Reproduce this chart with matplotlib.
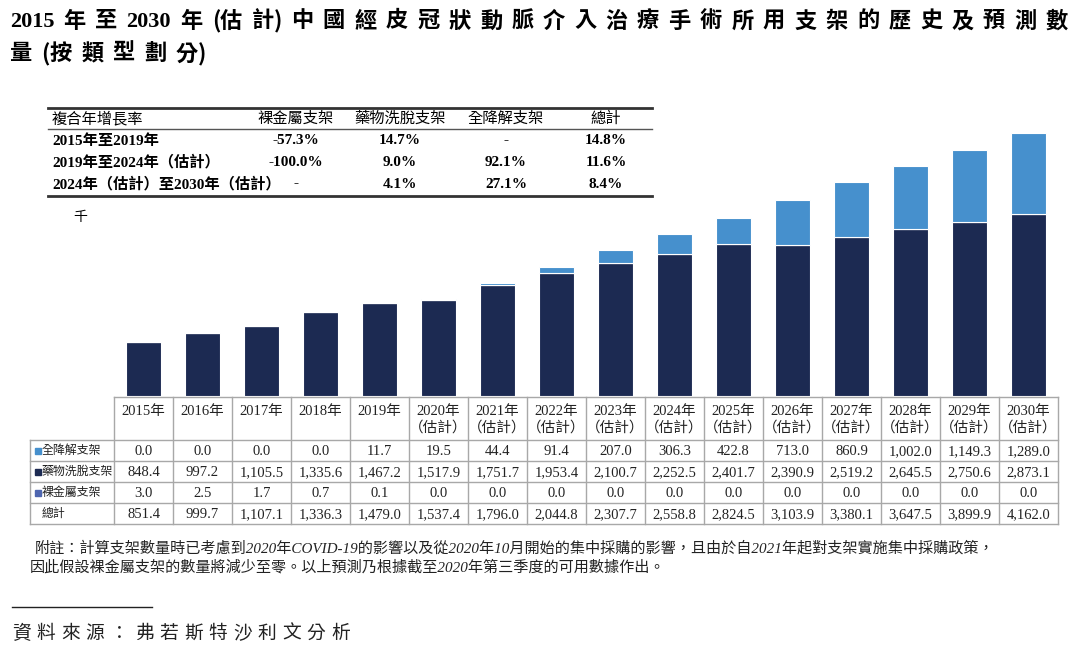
import matplotlib
matplotlib.use("Agg")
import matplotlib.pyplot as plt

# Data (千)
years = ["2015年", "2016年", "2017年", "2018年", "2019年",
         "2020年\n（估計）", "2021年\n（估計）", "2022年\n（估計）", "2023年\n（估計）",
         "2024年\n（估計）", "2025年\n（估計）", "2026年\n（估計）", "2027年\n（估計）",
         "2028年\n（估計）", "2029年\n（估計）", "2030年\n（估計）"]
brs = [0.0, 0.0, 0.0, 0.0, 11.7, 19.5, 44.4, 91.4, 207.0, 306.3, 422.8, 713.0,
       860.9, 1002.0, 1149.3, 1289.0]
des = [848.4, 997.2, 1105.5, 1335.6, 1467.2, 1517.9, 1751.7, 1953.4, 2100.7,
       2252.5, 2401.7, 2390.9, 2519.2, 2645.5, 2750.6, 2873.1]
bms = [3.0, 2.5, 1.7, 0.7, 0.1, 0.0, 0.0, 0.0, 0.0, 0.0, 0.0, 0.0, 0.0, 0.0, 0.0, 0.0]
total = [851.4, 999.7, 1107.1, 1336.3, 1479.0, 1537.4, 1796.0, 2044.8, 2307.7,
         2558.8, 2824.5, 3103.9, 3380.1, 3647.5, 3899.9, 4162.0]

series_names = ["全降解支架", "藥物洗脫支架", "裸金屬支架"]

# CAGR table
cagr_header = ["複合年增長率", "裸金屬支架", "藥物洗脫支架", "全降解支架", "總計"]
cagr_periods = ["2015年至2019年", "2019年至2024年（估計）", "2024年（估計）至2030年（估計）"]
cagr_bms = ["-57.3%", "-100.0%", "-"]
cagr_des = ["14.7%", "9.0%", "4.1%"]
cagr_brs = ["-", "92.1%", "27.1%"]
cagr_total = ["14.8%", "11.6%", "8.4%"]

title1 = "2015年至2030年(估計)中國經皮冠狀動脈介入治療手術所用支架的歷史及預測數"
title2 = "量(按類型劃分)"
note1 = ("附註：計算支架數量時已考慮到2020年COVID-19的影響以及從2020年10月開始的集中採購的影響，"
         "且由於自2021年起對支架實施集中採購政策，")
note2 = "因此假設裸金屬支架的數量將減少至零。以上預測乃根據截至2020年第三季度的可用數據作出。"
source = "資料來源：弗若斯特沙利文分析"

NAVY = "#1c2a52"
LIGHT = "#4690cd"
MID = "#4e66b0"
GRID = "#a8a8a8"
FAM = ["Liberation Serif", "Noto Sans CJK TC"]
CJK = ["Noto Sans CJK TC", "DejaVu Sans"]

W, H = 1080, 657
fig = plt.figure(figsize=(W / 100, H / 100), dpi=100)
ov = fig.add_axes([0, 0, 1, 1])
ov.set_xlim(0, W)
ov.set_ylim(H, 0)
ov.axis("off")
renderer = fig.canvas.get_renderer()


def tokens(s):
    out, buf = [], ""
    for ch in s:
        if ch.isascii() and ch not in "()":
            buf += ch
        else:
            if buf:
                out.append(buf)
                buf = ""
            out.append(ch)
    if buf:
        out.append(buf)
    return out


def spaced(x, y, s, size, width=None, gap=0.0, **kw):
    toks = tokens(s)
    arts = [ov.text(0, y, t, fontsize=size, va="center", ha="left",
                    family=CJK if t in "()" else FAM, **kw)
            for t in toks]
    ws = [a.get_window_extent(renderer).width for a in arts]
    # no extra gap right after "(" or right before ")"
    flags = [not (toks[i] == "(" or toks[i + 1] == ")") for i in range(len(toks) - 1)]
    if width is not None and sum(flags):
        gap = (width - sum(ws)) / sum(flags)
    for i, (a, w) in enumerate(zip(arts, ws)):
        a.set_x(x)
        x += w + (gap if i < len(flags) and flags[i] else 0)
    return gap


# title
g = spaced(10, 22, title1, 16, width=1058, weight="bold")
spaced(10, 55, title2, 16, gap=g, weight="bold")

# CAGR table
ov.plot([48, 652], [108, 108], color="#333333", lw=2)
ov.plot([48, 652], [129, 129], color="#555555", lw=1)
ov.plot([48, 652], [196, 196], color="#333333", lw=2)
col_x = [296, 400, 506, 606]
ov.text(52, 119, cagr_header[0], fontsize=11, va="center", ha="left", family=FAM)
for cx, h in zip(col_x, cagr_header[1:]):
    ov.text(cx, 119, h, fontsize=11, va="center", ha="center", family=FAM)
for i, per in enumerate(cagr_periods):
    y = 141 + i * 21.5
    ov.text(52, y, per, fontsize=11, va="center", ha="left", family=FAM, weight="bold")
    for cx, col in zip(col_x, [cagr_bms, cagr_des, cagr_brs, cagr_total]):
        ov.text(cx, y, col[i], fontsize=11, va="center", ha="center",
                family=FAM, weight="bold")

ov.text(80, 218, "千", fontsize=10, va="center", ha="center", family=FAM)

# bars
x0, x1, base, top_px = 114, 1058, 396, 133
ymax = 4400
px_per = (base - top_px) / total[-1]
ax = fig.add_axes([x0 / W, (H - base) / H, (x1 - x0) / W, ymax * px_per / H])
ax.patch.set_alpha(0)
pos = list(range(len(years)))
bw = 0.58
ax.bar(pos, des, bw, color=NAVY, edgecolor="white", linewidth=0.8)
ax.bar(pos, bms, bw, bottom=des, color=MID, edgecolor="white", linewidth=0.8)
bottoms = [a + b for a, b in zip(des, bms)]
ax.bar(pos, brs, bw, bottom=bottoms, color=LIGHT, edgecolor="white", linewidth=0.8)
ax.set_xlim(-0.5, len(years) - 0.5)
ax.set_ylim(0, ymax)
ax.axis("off")

# data table under bars
cw = (x1 - x0) / len(years)
rows_y = [397, 440, 461, 482, 503, 524]
ov.plot([x0, x1], [rows_y[0], rows_y[0]], color=GRID, lw=1)
for ry in rows_y[1:]:
    ov.plot([30, x1], [ry, ry], color=GRID, lw=1)
ov.plot([30, 30], [rows_y[1], rows_y[-1]], color=GRID, lw=1)
for k in range(len(years) + 1):
    xx = x0 + k * cw
    ov.plot([xx, xx], [rows_y[0], rows_y[-1]], color=GRID, lw=1)

for k, lab in enumerate(years):
    cx = x0 + (k + 0.5) * cw
    for j, part in enumerate(lab.split("\n")):
        ov.text(cx, 411 + j * 17, part, fontsize=10.5, va="center", ha="center",
                family=FAM, color="#222222")

row_vals = [brs, des, bms, total]
row_cols = [LIGHT, NAVY, MID, None]
row_labels = series_names + ["總計"]
for r, (vals, colr, lab) in enumerate(zip(row_vals, row_cols, row_labels)):
    cy = (rows_y[r + 1] + rows_y[r + 2]) / 2
    if colr:
        ov.plot(37.5, cy, marker="s", ms=5, color=colr, mec=colr)
    ov.text(42, cy, lab, fontsize=8.6, va="center", ha="left", family=FAM, color="#222222")
    for k, v in enumerate(vals):
        ov.text(x0 + (k + 0.5) * cw, cy + 1, f"{v:,.1f}", fontsize=10.5, va="center",
                ha="center", family=FAM, color="#222222")

# footnote and source
ov.text(35, 548, note1, fontsize=10.9, va="center", ha="left", family=FAM,
        style="italic", color="#222222")
ov.text(30, 567, note2, fontsize=10.9, va="center", ha="left", family=FAM,
        style="italic", color="#222222")
ov.plot([12, 152], [607, 607], color="#222222", lw=1)
spaced(12, 634, source, 13.5, width=338, style="italic", color="#222222")

fig.savefig("out.png", dpi=100)
